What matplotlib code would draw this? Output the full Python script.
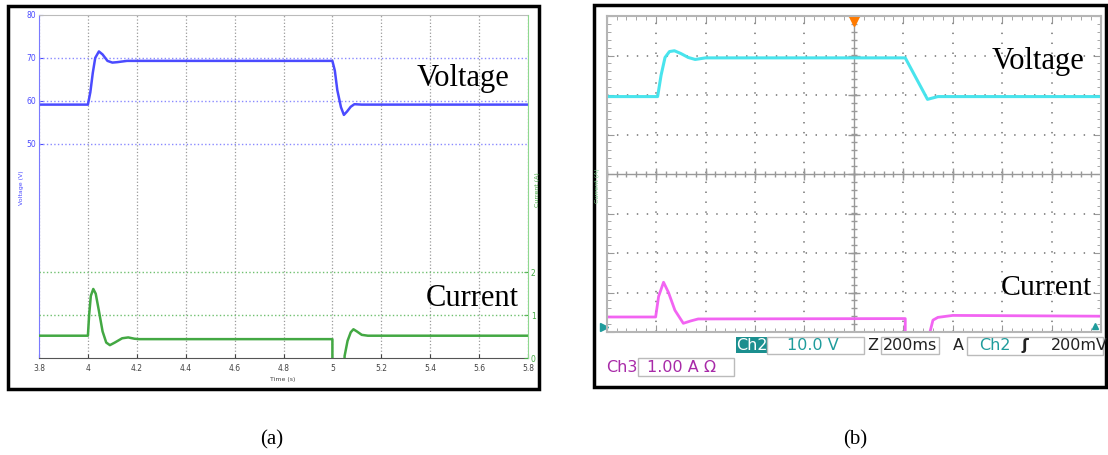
import matplotlib
matplotlib.use("Agg")
import matplotlib.pyplot as plt
from matplotlib.patches import Rectangle
import numpy as np

W, H = 1108, 455

# (a) simulation, time in seconds
sim_t_v = [3.8, 4.0, 4.01, 4.02, 4.03, 4.045, 4.06, 4.08, 4.1, 4.12, 4.16, 5.0,
           5.01, 5.02, 5.035, 5.047, 5.06, 5.075, 5.09, 5.12, 5.8]
sim_v = [59.1, 59.1, 62.0, 66.5, 70.0, 71.5, 70.8, 69.3, 68.9, 69.0, 69.3, 69.3,
         67.0, 62.5, 58.5, 56.7, 57.5, 58.6, 59.2, 59.1, 59.1]
sim_t_i = [3.8, 4.0, 4.005, 4.012, 4.022, 4.032, 4.045, 4.06, 4.075, 4.09, 4.11,
           4.14, 4.165, 4.19, 4.21, 5.0, 5.0, 5.044, 5.05, 5.062, 5.075, 5.086,
           5.1, 5.12, 5.145, 5.8]
sim_i = [0.52, 0.52, 1.0, 1.45, 1.61, 1.5, 1.1, 0.62, 0.36, 0.30, 0.36,
         0.46, 0.48, 0.45, 0.44, 0.44, -1.0, -1.0, 0.05, 0.4, 0.6, 0.67,
         0.62, 0.54, 0.52, 0.52]
sim_xticks = [3.8, 4.0, 4.2, 4.4, 4.6, 4.8, 5.0, 5.2, 5.4, 5.6, 5.8]
sim_xticklabels = ["3.8", "4", "4.2", "4.4", "4.6", "4.8", "5", "5.2", "5.4", "5.6", "5.8"]
sim_vticks = [50, 60, 70, 80]
sim_iticks = [0, 1, 2]

# (b) oscilloscope, in screen divisions
scope_t_v = [0, 1.03, 1.1, 1.18, 1.27, 1.37, 1.5, 1.65, 1.79, 2.0, 6.04, 6.49, 6.7, 10]
scope_v = [1.96, 1.96, 2.5, 2.95, 3.1, 3.12, 3.05, 2.95, 2.9, 2.94, 2.94, 1.89, 1.96, 1.96]
scope_t_i = [0, 0.99, 1.05, 1.15, 1.25, 1.38, 1.55, 1.7, 1.85, 6.04, 6.04, 6.48,
             6.6, 6.7, 7.0, 10]
scope_i = [-3.62, -3.62, -3.1, -2.74, -3.0, -3.45, -3.78, -3.72, -3.67, -3.66, -4.3, -4.3,
           -3.7, -3.63, -3.58, -3.6]

BLUE = "#4b4bff"
GREEN = "#43a843"
TEAL = "#1f9c9c"
MAG = "#a82aa8"


def rect(x0, y0, x1, y1):
    return [x0 / W, 1 - y1 / H, (x1 - x0) / W, (y1 - y0) / H]


def ftext(fig, x, y, s, **kw):
    return fig.text(x / W, 1 - y / H, s, **kw)


def fbox(fig, x0, y0, x1, y1, **kw):
    fig.add_artist(Rectangle((x0 / W, 1 - y1 / H), (x1 - x0) / W, (y1 - y0) / H,
                             transform=fig.transFigure, **kw))


fig = plt.figure(figsize=(W / 100, H / 100), dpi=100)
serif = "Liberation Serif"

# ---------- panel (a) ----------
fbox(fig, 8, 6, 539, 389, fill=False, edgecolor="black", lw=2.5)
ax_v = fig.add_axes(rect(39, 15, 528, 358))
ax_v.set_xlim(3.8, 5.8)
ax_v.set_ylim(0, 80)
ax_v.set_xticks(sim_xticks)
ax_v.set_xticklabels(sim_xticklabels)
ax_v.set_yticks(sim_vticks)
ax_v.tick_params(axis="x", direction="in", length=3, labelsize=5.5, colors="#444444", pad=4)
ax_v.tick_params(axis="y", direction="in", length=3, labelsize=5.5, colors=BLUE, pad=2)
ax_v.grid(axis="x", color="#9a9a9a", ls=":", lw=0.9)
for yv in sim_vticks[:-1]:
    ax_v.axhline(yv, color="#8a8aff", ls=":", lw=1.0)
ax_v.plot(sim_t_v, sim_v, color=BLUE, lw=1.8)
ax_v.spines["left"].set_color("#7a7aff")
ax_v.spines["top"].set_color("#bbbbbb")
ax_v.spines["bottom"].set_color("#555555")
ax_v.spines["right"].set_visible(False)

ax_i = ax_v.twinx()
ax_i.set_ylim(0, 8)
ax_i.set_yticks(sim_iticks)
ax_i.tick_params(axis="y", direction="in", length=3, labelsize=5.5, colors=GREEN, pad=2)
for yi in sim_iticks[1:]:
    ax_i.axhline(yi, color="#70c070", ls=":", lw=1.0)
ax_i.plot(sim_t_i, sim_i, color=GREEN, lw=1.8)
ax_i.spines["right"].set_color("#8fd88f")
for s in ["left", "top", "bottom"]:
    ax_i.spines[s].set_visible(False)

ftext(fig, 21, 188, "Voltage (V)", fontsize=4.5, color=BLUE, rotation=90, ha="center", va="center")
ftext(fig, 537, 190, "Current (A)", fontsize=4.5, color=GREEN, rotation=90, ha="center", va="center")
ftext(fig, 283, 380, "Time (s)", fontsize=4.5, color="#444444", ha="center", va="center")
ftext(fig, 417, 86, "Voltage", family=serif, fontsize=22, ha="left", va="baseline")
ftext(fig, 426, 306, "Current", family=serif, fontsize=22, ha="left", va="baseline")

# ---------- panel (b) ----------
fbox(fig, 594, 5, 1106, 387, fill=False, edgecolor="black", lw=2.5)
ax_s = fig.add_axes(rect(606.7, 16, 1101, 332))
ax_s.set_xlim(0, 10)
ax_s.set_ylim(-4, 4)
ax_s.set_xticks(range(11))
ax_s.set_yticks(range(-4, 5))
ax_s.set_xticks(np.arange(0, 10.01, 0.2), minor=True)
ax_s.set_yticks(np.arange(-4, 4.01, 0.2), minor=True)
ax_s.tick_params(which="both", direction="in", top=True, right=True, labelbottom=False,
                 labelleft=False, colors="#999999")
ax_s.tick_params(which="major", length=5)
ax_s.tick_params(which="minor", length=3)
for s in ax_s.spines.values():
    s.set_color("#b5b5b5")
    s.set_linewidth(1.5)
for xg in [1, 2, 3, 4, 6, 7, 8, 9]:
    ax_s.axvline(xg, color="#888888", lw=1.3, dashes=(0.8, 4.7))
for yg in [-3, -2, -1, 1, 2, 3]:
    ax_s.axhline(yg, color="#888888", lw=1.3, dashes=(0.8, 4.7))
ax_s.axhline(0, color="#999999", lw=1.0)
ax_s.axvline(5, color="#999999", lw=1.0)
minor_x = np.arange(0, 10.01, 0.2)
minor_y = np.arange(-4, 4.01, 0.2)
ax_s.plot(minor_x, np.zeros_like(minor_x), ls="none", marker="|", ms=4, color="#999999")
ax_s.plot(np.arange(11), np.zeros(11), ls="none", marker="|", ms=8, color="#999999")
ax_s.plot(np.full_like(minor_y, 5), minor_y, ls="none", marker="_", ms=4, color="#999999")
ax_s.plot(np.full(9, 5), np.arange(-4, 5), ls="none", marker="_", ms=8, color="#999999")

ax_s.plot(scope_t_v, scope_v, color="#3fe3ec", lw=2.2, alpha=0.95)
ax_s.plot(scope_t_i, scope_i, color="#f25cf2", lw=2.0, alpha=0.95)

ax_s.plot(5, 3.88, marker="v", color="#ff7a00", ms=7, clip_on=False)
ax_s.plot(-0.06, -3.87, marker=">", color=TEAL, ms=6, clip_on=False)
ax_s.plot(9.88, -3.85, marker="^", color=TEAL, ms=5, clip_on=False)

ftext(fig, 598, 186, "Current (A)", fontsize=4.5, color="#7ccf8c", rotation=90, ha="center", va="center")
ftext(fig, 992, 69, "Voltage", family=serif, fontsize=22, ha="left", va="baseline")
ftext(fig, 1001, 295, "Current", family=serif, fontsize=21.5, ha="left", va="baseline")

# status bar
sb = dict(fontsize=11.5, va="center")
fbox(fig, 736, 337, 767, 353, facecolor="#1b8f8f", edgecolor="none")
ftext(fig, 751.5, 345, "Ch2", color="white", ha="center", **sb)
fbox(fig, 767, 337, 864, 354, facecolor="white", edgecolor="#bbbbbb", lw=1)
ftext(fig, 787, 345.5, "10.0 V", color=TEAL, ha="left", **sb)
ftext(fig, 873, 345.5, "Z", color="#222222", ha="center", **sb)
fbox(fig, 881, 337, 939, 354, facecolor="white", edgecolor="#bbbbbb", lw=1)
ftext(fig, 910, 345.5, "200ms", color="#222222", ha="center", **sb)
ftext(fig, 958, 345.5, "A", color="#222222", ha="center", **sb)
fbox(fig, 967, 337, 1103, 355, facecolor="white", edgecolor="#bbbbbb", lw=1)
ftext(fig, 979, 345.5, "Ch2", color=TEAL, ha="left", **sb)
ftext(fig, 1025, 345.5, "\u0283", color="#222222", ha="center", fontweight="bold", **sb)
ftext(fig, 1051, 345.5, "200mV", color="#222222", ha="left", **sb)
ftext(fig, 606, 367, "Ch3", color=MAG, ha="left", **sb)
fbox(fig, 638, 358, 734, 376, facecolor="white", edgecolor="#bbbbbb", lw=1)
ftext(fig, 647, 367, "1.00 A \u03a9", color=MAG, ha="left", **sb)

# captions
ftext(fig, 272, 440, "(a)", family=serif, fontsize=15, ha="center", va="center")
ftext(fig, 855, 440, "(b)", family=serif, fontsize=15, ha="center", va="center")

fig.savefig("out.png", dpi=100)
